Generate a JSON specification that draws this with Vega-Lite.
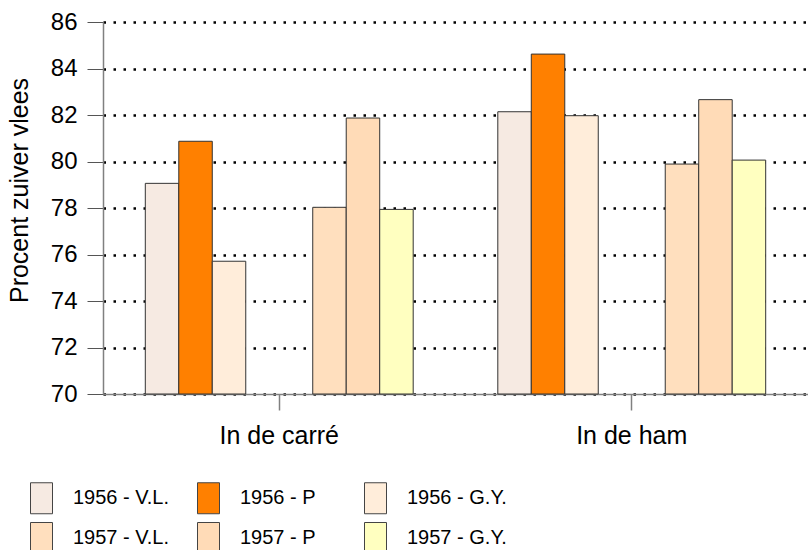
{
  "$schema": "https://vega.github.io/schema/vega-lite/v6.json",
  "width": 705,
  "height": 372,
  "autosize": {"type": "none"},
  "padding": {"left": 103, "top": 22, "right": 0, "bottom": 156},
  "background": "white",
  "config": {
    "view": {"stroke": null},
    "font": "Liberation Sans"
  },
  "data": {
    "values": [
      {"cat": "In de carré", "series": "1956 - V.L.", "value": 79.06},
      {"cat": "In de carré", "series": "1956 - P", "value": 80.87},
      {"cat": "In de carré", "series": "1956 - G.Y.", "value": 75.71},
      {"cat": "In de carré", "series": "1957 - V.L.", "value": 78.03},
      {"cat": "In de carré", "series": "1957 - P", "value": 81.87},
      {"cat": "In de carré", "series": "1957 - G.Y.", "value": 77.94},
      {"cat": "In de ham", "series": "1956 - V.L.", "value": 82.14},
      {"cat": "In de ham", "series": "1956 - P", "value": 84.62},
      {"cat": "In de ham", "series": "1956 - G.Y.", "value": 81.97},
      {"cat": "In de ham", "series": "1957 - V.L.", "value": 79.89},
      {"cat": "In de ham", "series": "1957 - P", "value": 82.66},
      {"cat": "In de ham", "series": "1957 - G.Y.", "value": 80.06}
    ]
  },
  "mark": {"type": "bar", "stroke": "#333333", "strokeWidth": 1, "opacity": 1},
  "encoding": {
    "x": {
      "field": "cat",
      "type": "nominal",
      "sort": null,
      "scale": {"paddingInner": 0.05, "paddingOuter": 0.025},
      "axis": {
        "title": null,
        "labelAngle": 0,
        "labelFontSize": 25,
        "labelColor": "black",
        "labelPadding": 13,
        "tickSize": 16,
        "tickColor": "#808080",
        "domainColor": "#808080",
        "domainWidth": 1.5,
        "tickWidth": 1.5
      }
    },
    "xOffset": {
      "field": "series",
      "type": "nominal",
      "scale": {
        "domain": ["1956 - V.L.", "1956 - P", "1956 - G.Y.", "g1", "g2", "1957 - V.L.", "1957 - P", "1957 - G.Y."],
        "paddingInner": 0,
        "paddingOuter": 1
      }
    },
    "y": {
      "field": "value",
      "type": "quantitative",
      "scale": {"domain": [70, 86], "zero": false, "nice": false},
      "axis": {
        "title": "Procent zuiver vlees",
        "titleFontSize": 25,
        "titleFontWeight": "normal",
        "titleColor": "black",
        "titlePadding": 18,
        "titleY": 168,
        "values": [70, 72, 74, 76, 78, 80, 82, 84, 86],
        "labelFontSize": 24,
        "labelColor": "black",
        "labelPadding": 10,
        "tickSize": 16,
        "tickColor": "#555555",
        "domainColor": "#808080",
        "domainWidth": 1.5,
        "grid": true,
        "gridColor": "black",
        "gridWidth": 2.5,
        "gridDash": [2.5, 7.5]
      }
    },
    "y2": {"datum": 70},
    "color": {
      "field": "series",
      "type": "nominal",
      "scale": {
        "domain": ["1956 - V.L.", "1956 - P", "1956 - G.Y.", "1957 - V.L.", "1957 - P", "1957 - G.Y."],
        "range": ["#F6EAE2", "#FF8000", "#FFEDDA", "#FFDFBE", "#FFDBB7", "#FFFFC0"]
      },
      "legend": {
        "title": null,
        "orient": "none",
        "legendX": -73,
        "legendY": 460,
        "direction": "horizontal",
        "columns": 3,
        "gridAlign": "all",
        "columnPadding": 22,
        "rowPadding": 4,
        "padding": 0,
        "symbolType": "M-1,-1H0.42V1H-1Z",
        "symbolSize": 961,
        "symbolStrokeColor": "#444444",
        "symbolStrokeWidth": 1,
        "symbolOpacity": 1,
        "labelFontSize": 20,
        "labelColor": "black",
        "labelOffset": 11,
        "labelLimit": 300
      }
    }
  }
}
